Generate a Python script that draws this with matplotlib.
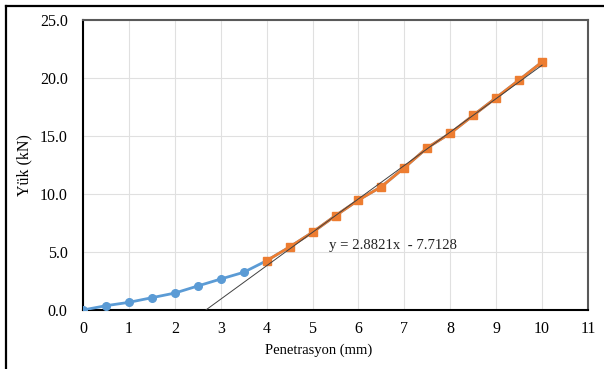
import matplotlib
matplotlib.use("Agg")
import matplotlib.pyplot as plt
from matplotlib.lines import Line2D
import numpy as np

plt.rcParams['font.family'] = ['Liberation Serif', 'DejaVu Serif']

# Data
pen_blue = [0, 0.5, 1, 1.5, 2, 2.5, 3, 3.5, 4, 4.5, 5, 5.5, 6, 6.5, 7, 7.5, 8, 8.5, 9, 9.5, 10]
load_blue = [0.0, 0.37, 0.66, 1.06, 1.46, 2.07, 2.67, 3.25, 4.25, 5.43, 6.70, 8.13, 9.48, 10.63,
             12.27, 13.99, 15.23, 16.78, 18.30, 19.83, 21.38]
pen_orange = [4, 4.5, 5, 5.5, 6, 6.5, 7, 7.5, 8, 8.5, 9, 9.5, 10]
load_orange = [4.25, 5.43, 6.70, 8.13, 9.48, 10.63, 12.27, 13.99, 15.23, 16.78, 18.30, 19.83, 21.38]
slope = 2.8821
intercept = -7.7128
eq_text = "y = 2.8821x  - 7.7128"
xticks = list(range(0, 12))
yticks = [0, 5, 10, 15, 20, 25]

fig = plt.figure(figsize=(6.04, 3.69), dpi=100)
ax = fig.add_axes([83/604, 1-310/369, (588-83)/604, (310-20)/369])

ax.plot(pen_blue, load_blue, color='#5B9BD5', lw=2, marker='o', ms=5.5, zorder=3)
ax.plot(pen_orange, load_orange, color='#ED7D31', lw=2, marker='s', ms=5.2, zorder=4)

x0 = -intercept / slope
xt = np.array([x0, 10])
ax.plot(xt, slope * xt + intercept, color='#404040', lw=0.7, zorder=5)

ax.text(5.36, 5.6, eq_text, fontsize=10.6, va='center', ha='left', color='#222222')

ax.set_xlim(0, 11)
ax.set_ylim(0, 25)
ax.set_xticks(xticks)
ax.set_yticks(yticks)
ax.set_yticklabels([f"{v:.1f}" for v in yticks])
ax.tick_params(length=0, labelsize=11.5)
ax.tick_params(axis='y', pad=11)
ax.tick_params(axis='x', pad=8)
ax.grid(True, color='#E0E0E0', lw=0.8)
ax.set_axisbelow(True)
for s in ['left', 'bottom']:
    ax.spines[s].set_color('black')
    ax.spines[s].set_linewidth(1.5)
for s in ['top', 'right']:
    ax.spines[s].set_color('#595959')
    ax.spines[s].set_linewidth(1.5)

ax.set_xlabel('Penetrasyon (mm)', fontsize=10.5, labelpad=7)
ax.xaxis.set_label_coords((319-83)/(588-83), -0.115)
ax.set_ylabel('Yük (kN)', fontsize=11.5)
ax.yaxis.set_label_coords(-(83-32)/(588-83), 0.5)

# outer frame lines
fig.add_artist(Line2D([6/604, 1], [1-5.5/369, 1-5.5/369], transform=fig.transFigure, color='black', lw=1.6))
fig.add_artist(Line2D([6/604, 6/604], [0, 1-5.5/369], transform=fig.transFigure, color='black', lw=1.6))

fig.savefig('out.png', dpi=100)
